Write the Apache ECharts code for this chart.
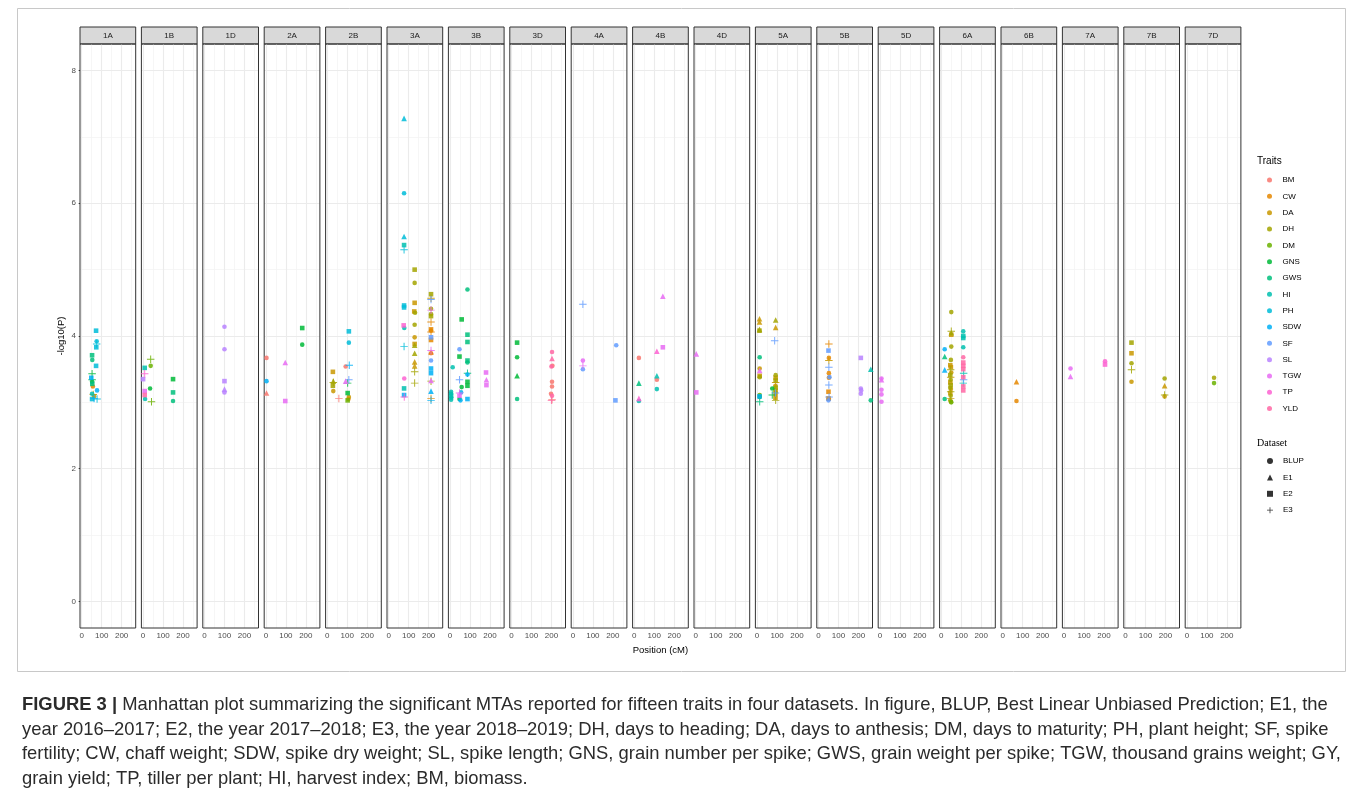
<!DOCTYPE html>
<html><head><meta charset="utf-8">
<script src="https://cdn.jsdelivr.net/npm/echarts@6/dist/echarts.min.js"></script>
<style>html,body{margin:0;padding:0;background:#fff}#c{width:1358px;height:798px}</style>
</head><body><div id="c"></div><script>
const chromosomes = ['1A','1B','1D','2A','2B','3A','3B','3D','4A','4B','4D','5A','5B','5D','6A','6B','7A','7B','7D'];
const traits = ['BM','CW','DA','DH','DM','GNS','GWS','HI','PH','SDW','SF','SL','TGW','TP','YLD'];
const traitColors = ['#F8766D','#E58700','#C99800','#A3A500','#6BB100','#00BA38','#00BF7D','#00C0AF','#00BCD8','#00B0F6','#619CFF','#B983FF','#E76BF3','#FD61D1','#FF67A4'];
const datasets = ['BLUP','E1','E2','E3'];
const xTicks = [0,100,200];
const xMinor = [50,150,250];
const yTicks = [0,2,4,6,8];
const yMinor = [1,3,5,7];

// [trait, dataset, position (cM), -log10(P)]
const points1A = [["PH","E2",72,4.08],["PH","BLUP",75,3.92],["PH","E3",75,3.88],["PH","E2",73,3.83],["GWS","E2",52,3.71],["GWS","BLUP",53,3.64],["PH","E2",72,3.55],["GNS","E3",52,3.43],["SDW","E2",48,3.37],["GNS","E3",52,3.34],["GNS","BLUP",52,3.31],["GWS","E2",53,3.28],["CW","BLUP",56,3.24],["SDW","BLUP",77,3.18],["HI","BLUP",52,3.13],["DA","E3",58,3.12],["DA","BLUP",62,3.09],["PH","E2",52,3.05],["PH","E3",77,3.05],["SDW","E3",62,3.06]];
const points1B = [["DM","E3",38,3.65],["DM","BLUP",38,3.55],["HI","E2",8,3.52],["TP","E3",8,3.43],["SL","E2",0,3.35],["GNS","BLUP",35,3.21],["TGW","E2",8,3.17],["YLD","E2",8,3.11],["HI","BLUP",10,3.05],["DM","E3",42,3.01],["GNS","E2",150,3.35],["GWS","E2",150,3.15],["GWS","BLUP",150,3.02]];
const points1D = [["SL","BLUP",100,4.14],["SL","BLUP",100,3.80],["SL","E2",100,3.32],["SL","E1",100,3.20],["SL","BLUP",100,3.15]];
const points2A = [["BM","BLUP",3,3.67],["SDW","BLUP",3,3.32],["BM","E1",3,3.14],["TGW","E1",97,3.60],["TGW","E2",97,3.02],["GNS","E2",182,4.12],["GNS","BLUP",182,3.87]];
const points2B = [["PH","E2",108,4.07],["PH","BLUP",108,3.90],["SDW","E3",110,3.56],["BM","BLUP",92,3.54],["SF","E3",108,3.34],["TGW","E1",92,3.32],["GNS","E3",102,3.29],["DA","E2",28,3.46],["DH","E1",30,3.32],["DH","E3",30,3.30],["DH","E2",28,3.25],["DA","BLUP",30,3.17],["BM","E3",58,3.06],["GNS","E2",102,3.14],["DA","BLUP",108,3.08],["DM","E2",102,3.03],["CW","BLUP",106,3.05]];
const points3A = [["PH","E1",77,7.28],["PH","BLUP",77,6.15],["PH","E1",77,5.50],["HI","E2",77,5.37],["PH","E3",77,5.30],["PH","E2",77,4.46],["PH","E2",77,4.43],["TP","E2",75,4.16],["HI","BLUP",78,4.12],["PH","E3",77,3.84],["TP","BLUP",78,3.36],["HI","E2",77,3.21],["SDW","E2",77,3.11],["TP","E3",78,3.08],
["DH","E2",130,5.00],["DH","BLUP",130,4.80],["DA","E2",130,4.50],["DA","E2",128,4.37],["DH","BLUP",132,4.35],["DH","BLUP",130,4.17],["DA","BLUP",130,3.98],["DA","E2",130,3.88],["DH","E1",130,3.86],["DH","E1",130,3.74],["DA","E1",130,3.61],["DA","E1",130,3.55],["DH","E3",130,3.46],["DH","E3",130,3.29],
["DH","E2",212,4.63],["DA","E3",212,4.57],["SF","E3",212,4.55],["DH","BLUP",212,4.41],["TGW","E3",212,4.39],["DH","BLUP",212,4.33],["DH","E2",212,4.30],["CW","E3",212,4.21],["CW","E2",212,4.10],["CW","BLUP",212,4.08],["CW","E3",212,4.06],["SF","E2",212,3.98],["CW","E2",212,3.94],["TGW","E3",212,3.78],["CW","E1",212,3.76],["BM","BLUP",212,3.74],["SF","BLUP",212,3.63],["SDW","E2",212,3.51],["SDW","E2",212,3.44],["DH","E3",212,3.32],["TGW","E1",212,3.33],["SDW","E1",212,3.17],["CW","E3",212,3.06],["SDW","E3",212,3.03]];
const points3B = [["GWS","BLUP",87,4.70],["GNS","E2",58,4.25],["GWS","E2",87,4.02],["GWS","E2",87,3.91],["SF","BLUP",47,3.80],["GNS","E2",47,3.69],["GWS","E2",87,3.63],["GWS","BLUP",87,3.60],["HI","BLUP",13,3.53],["GWS","E3",87,3.44],["SDW","BLUP",87,3.42],["SF","E3",47,3.34],["GNS","E2",87,3.31],["GNS","E2",87,3.25],["GNS","BLUP",58,3.23],["TGW","E2",180,3.45],["TGW","E1",182,3.34],["TGW","E2",182,3.26],["HI","BLUP",5,3.16],["HI","BLUP",5,3.13],["HI","E2",5,3.10],["HI","BLUP",6,3.07],["HI","BLUP",5,3.04],["TGW","E3",47,3.14],["SDW","BLUP",55,3.15],["GNS","BLUP",47,3.05],["SDW","E2",87,3.05],["SDW","BLUP",52,3.03],["TGW","E2",47,3.10]];
const points3D = [["GNS","E2",28,3.90],["GNS","BLUP",28,3.68],["GNS","E1",28,3.40],["GWS","BLUP",28,3.05],["YLD","BLUP",203,3.76],["YLD","E1",203,3.66],["YLD","BLUP",200,3.54],["BM","BLUP",205,3.55],["BM","BLUP",203,3.31],["BM","BLUP",203,3.24],["BM","BLUP",198,3.13],["YLD","BLUP",203,3.10],["BM","E3",203,3.04],["YLD","E3",200,3.03]];
const points4A = [["SF","E3",50,4.48],["TGW","BLUP",50,3.63],["TGW","E3",50,3.55],["SF","BLUP",50,3.50],["SF","BLUP",217,3.86],["SF","E2",213,3.03]];
const points4B = [["BM","BLUP",23,3.67],["GWS","E1",23,3.29],["TP","E1",23,3.06],["HI","BLUP",23,3.02],["TP","E1",113,3.77],["HI","E1",113,3.40],["BM","BLUP",113,3.34],["HI","BLUP",113,3.20],["TGW","E1",143,4.60],["TGW","E2",143,3.83]];
const points4D = [["TGW","E1",3,3.73],["TGW","E2",3,3.15]];
const points5A = [["DA","E1",12,4.26],["DA","E1",12,4.21],["DH","E1",12,4.10],["DH","E2",12,4.08],["GWS","BLUP",13,3.68],["DA","BLUP",13,3.51],["TGW","E1",13,3.48],["DA","E2",13,3.40],["DH","BLUP",13,3.38],["DM","BLUP",13,3.11],["SDW","E2",12,3.09],["GNS","BLUP",13,3.08],["GWS","E3",13,3.01],
["DH","E1",93,4.24],["DA","E1",93,4.13],["SF","E3",88,3.93],["DH","BLUP",93,3.41],["DA","E2",93,3.37],["DA","E3",93,3.30],["DH","E2",93,3.33],["DA","BLUP",92,3.25],["DH","E2",93,3.22],["DA","E2",92,3.18],["DH","BLUP",93,3.15],["DA","BLUP",92,3.12],["SF","E3",92,3.14],["GNS","BLUP",76,3.21],["GNS","E3",76,3.11],["DH","E3",93,3.03],["DA","E2",92,3.07]];
const points5B = [["CW","E3",52,3.88],["SF","E2",50,3.78],["CW","BLUP",52,3.67],["DA","E3",52,3.63],["SF","E3",52,3.53],["CW","BLUP",52,3.44],["CW","BLUP",52,3.37],["SF","BLUP",55,3.38],["SF","E3",52,3.26],["CW","E2",50,3.16],["CW","E2",50,3.06],["SF","E3",53,3.08],["SF","BLUP",50,3.03],["CW","BLUP",52,3.05],["SL","E2",212,3.67],["SL","BLUP",212,3.21],["SL","BLUP",214,3.18],["SL","BLUP",212,3.13],["HI","E1",262,3.50],["GWS","BLUP",262,3.03]];
const points5D = [["TGW","BLUP",8,3.36],["TGW","E1",8,3.34],["TGW","BLUP",8,3.19],["TGW","BLUP",8,3.12],["TGW","BLUP",8,3.01]];
const points6A = [["SDW","BLUP",17,3.80],["GWS","E1",17,3.69],["SDW","E1",17,3.49],["GWS","BLUP",17,3.05],
["DH","BLUP",50,4.36],["DH","E3",50,4.07],["DH","E1",50,4.05],["DA","E2",50,4.02],["DH","BLUP",50,3.84],["DH","BLUP",48,3.64],["DA","E2",45,3.56],["DA","E2",48,3.53],["DH","E3",47,3.49],["DA","BLUP",50,3.45],["DH","E2",45,3.41],["DA","E3",47,3.38],["DH","BLUP",47,3.34],["DA","E2",45,3.30],["DH","E2",47,3.26],["DH","BLUP",45,3.22],["DA","BLUP",48,3.20],["DH","E3",47,3.16],["DA","E2",45,3.14],["DH","BLUP",47,3.10],["DA","E3",47,3.06],["DH","BLUP",45,3.03],["DA","BLUP",48,3.01],["DM","BLUP",50,3.00],
["HI","BLUP",110,4.07],["HI","E2",110,4.00],["HI","E2",110,3.97],["HI","BLUP",110,3.83],["YLD","BLUP",110,3.68],["YLD","E2",110,3.60],["YLD","E2",110,3.55],["YLD","E2",110,3.50],["HI","E3",112,3.44],["YLD","E2",110,3.38],["SF","E3",112,3.34],["HI","E3",110,3.29],["YLD","E2",110,3.24],["YLD","E2",110,3.18]];
const points6B = [["CW","E1",69,3.31],["CW","BLUP",69,3.02]];
const points7A = [["TGW","BLUP",32,3.51],["TGW","E1",32,3.39],["TP","BLUP",205,3.62],["TP","E2",205,3.57]];
const points7B = [["DH","E2",30,3.90],["DA","E2",30,3.74],["DH","BLUP",30,3.59],["DH","E3",30,3.49],["DA","BLUP",30,3.31],["DH","BLUP",196,3.36],["DA","E1",196,3.25],["DH","E3",196,3.11],["DA","BLUP",196,3.09]];
const points7D = [["DH","BLUP",136,3.37],["DM","BLUP",136,3.29]];

const pointsByChrom = [points1A,points1B,points1D,points2A,points2B,points3A,points3B,points3D,points4A,points4B,points4D,points5A,points5B,points5D,points6A,points6B,points7A,points7B,points7D];

const FONT = 'Liberation Sans';
const CROSS = 'path://M0,4.35H10V5.65H0Z M4.35,0H5.65V10H4.35Z';
const dsSymbol = ['circle','triangle','rect',CROSS];
const dsSize = [4.6,5.6,4.6,7.5];

const L = {left:80, width:55.7, pitch:61.4, top:44, height:584, stripTop:27, stripH:17};
const X_MIN = -8.5, X_MAX = 270.5, Y_MIN = -0.4, Y_MAX = 8.4;

const grid = [], xAxis = [], yAxis = [], series = [], graphic = [];
const major = {color:'#EBEBEB', width:1.1, type:'solid'};
const minor = {color:'#F4F4F4', width:0.8, type:'solid'};

chromosomes.forEach((chr, i) => {
  const left = L.left + i * L.pitch;
  grid.push({left: left, top: L.top, width: L.width, height: L.height, show: true, z: 4,
    borderColor: '#333333', borderWidth: 1, backgroundColor: 'transparent'});
  xAxis.push({gridIndex: i, type: 'value', min: X_MIN, max: X_MAX,
    axisLine: {show: false},
    axisTick: {show: true, customValues: xTicks, length: 3, lineStyle: {color: '#333', width: 1}},
    axisLabel: {customValues: xTicks, fontSize: 8, color: '#4D4D4D', margin: 4, fontFamily: FONT},
    splitLine: {show: false},
    name: i === 9 ? 'Position (cM)' : '', nameLocation: 'middle', nameGap: 15,
    nameTextStyle: {fontSize: 9.5, color: '#000', fontFamily: FONT}});
  yAxis.push({gridIndex: i, type: 'value', min: Y_MIN, max: Y_MAX,
    axisLine: {show: false},
    axisTick: {show: i === 0, customValues: yTicks, length: 3, lineStyle: {color: '#333', width: 1}},
    axisLabel: {show: i === 0, customValues: yTicks, fontSize: 8, color: '#4D4D4D', margin: 4, fontFamily: FONT},
    splitLine: {show: false},
    name: i === 0 ? '-log10(P)' : '', nameLocation: 'middle', nameGap: 14, nameRotate: 90,
    nameTextStyle: {fontSize: 9.5, color: '#000', fontFamily: FONT}});
  // panel grid lines (drawn beneath the points)
  series.push({type: 'scatter', xAxisIndex: i, yAxisIndex: i, data: [], silent: true, z: 1, animation: false,
    markLine: {silent: true, z: 1, symbol: ['none','none'], animation: false, label: {show: false},
      emphasis: {disabled: true},
      data: [].concat(
        xMinor.map(v => ({xAxis: v, lineStyle: minor})),
        yMinor.map(v => ({yAxis: v, lineStyle: minor})),
        xTicks.map(v => ({xAxis: v, lineStyle: major})),
        yTicks.map(v => ({yAxis: v, lineStyle: major})))}});
  const pts = pointsByChrom[i];
  traits.forEach((t, k) => {
    const sub = pts.filter(p => p[0] === t);
    if (!sub.length) return;
    series.push({type: 'scatter', name: t, xAxisIndex: i, yAxisIndex: i, z: 6, animation: false,
      data: sub.map(p => [p[2], p[3], datasets.indexOf(p[1])]),
      symbol: v => dsSymbol[v[2]], symbolSize: v => dsSize[v[2]],
      itemStyle: {color: traitColors[k], opacity: 0.85},
      emphasis: {disabled: true}});
  });
  // strip
  graphic.push({type: 'rect', shape: {x: left, y: L.stripTop, width: L.width, height: L.stripH},
    style: {fill: '#D9D9D9', stroke: '#333333', lineWidth: 1}, silent: true});
  graphic.push({type: 'text', x: left + L.width / 2, y: L.stripTop + L.stripH / 2,
    style: {text: chr, fontSize: 8, fill: '#1A1A1A', fontFamily: FONT, align: 'center', verticalAlign: 'middle'}, silent: true});
});

datasets.forEach((d, j) => {
  series.push({type: 'scatter', name: d, xAxisIndex: 0, yAxisIndex: 0, data: [], symbol: dsSymbol[j], itemStyle: {color: '#000'}});
});

graphic.push({type: 'rect', shape: {x: 17.5, y: 8.5, width: 1328, height: 663},
  style: {fill: 'none', stroke: '#C8C8C8', lineWidth: 1}, silent: true, z: -1});
graphic.push({type: 'text', x: 1257, y: 161,
  style: {text: 'Traits', fontSize: 10, fill: '#000', fontFamily: FONT, align: 'left', verticalAlign: 'middle'}});
graphic.push({type: 'text', x: 1257, y: 443,
  style: {text: 'Dataset', fontSize: 10, fill: '#000', fontFamily: 'Liberation Serif', align: 'left', verticalAlign: 'middle'}});
graphic.push({type: 'text', x: 22, y: 693,
  style: {
    text: '{b|FIGURE 3 |} Manhattan plot summarizing the significant MTAs reported for fifteen traits in four datasets. In figure, BLUP, Best Linear Unbiased Prediction; E1, the\n' +
      'year 2016–2017; E2, the year 2017–2018; E3, the year 2018–2019; DH, days to heading; DA, days to anthesis; DM, days to maturity; PH, plant height; SF, spike\n' +
      'fertility; CW, chaff weight; SDW, spike dry weight; SL, spike length; GNS, grain number per spike; GWS, grain weight per spike; TGW, thousand grains weight; GY,\n' +
      'grain yield; TP, tiller per plant; HI, harvest index; BM, biomass.',
    fontSize: 18.4, fontFamily: FONT, fill: '#2B2B2B', lineHeight: 24.5, align: 'left', verticalAlign: 'top',
    rich: {b: {fontWeight: 'bold', fontSize: 18.4, fontFamily: FONT, fill: '#2B2B2B', lineHeight: 24.5}}
  }});

const chart = echarts.init(document.getElementById('c'), null, {renderer: 'canvas'});
chart.setOption({
  backgroundColor: '#fff',
  animation: false,
  grid, xAxis, yAxis, series, graphic,
  legend: [
    {data: traits.map(t => ({name: t, icon: 'circle'})), orient: 'vertical', left: 1262, top: 170,
      itemWidth: 6, itemHeight: 5, itemGap: 6.33, selectedMode: false,
      textStyle: {fontSize: 8, color: '#000', fontFamily: FONT, lineHeight: 10, padding: [0,0,0,5]}},
    {data: datasets.map((d, j) => ({name: d, icon: dsSymbol[j]})), orient: 'vertical', left: 1262, top: 451,
      itemWidth: 6, itemHeight: 6, itemGap: 6.4, selectedMode: false,
      textStyle: {fontSize: 8, color: '#000', fontFamily: FONT, lineHeight: 10, padding: [0,0,0,5]}}
  ]
});
</script></body></html>
